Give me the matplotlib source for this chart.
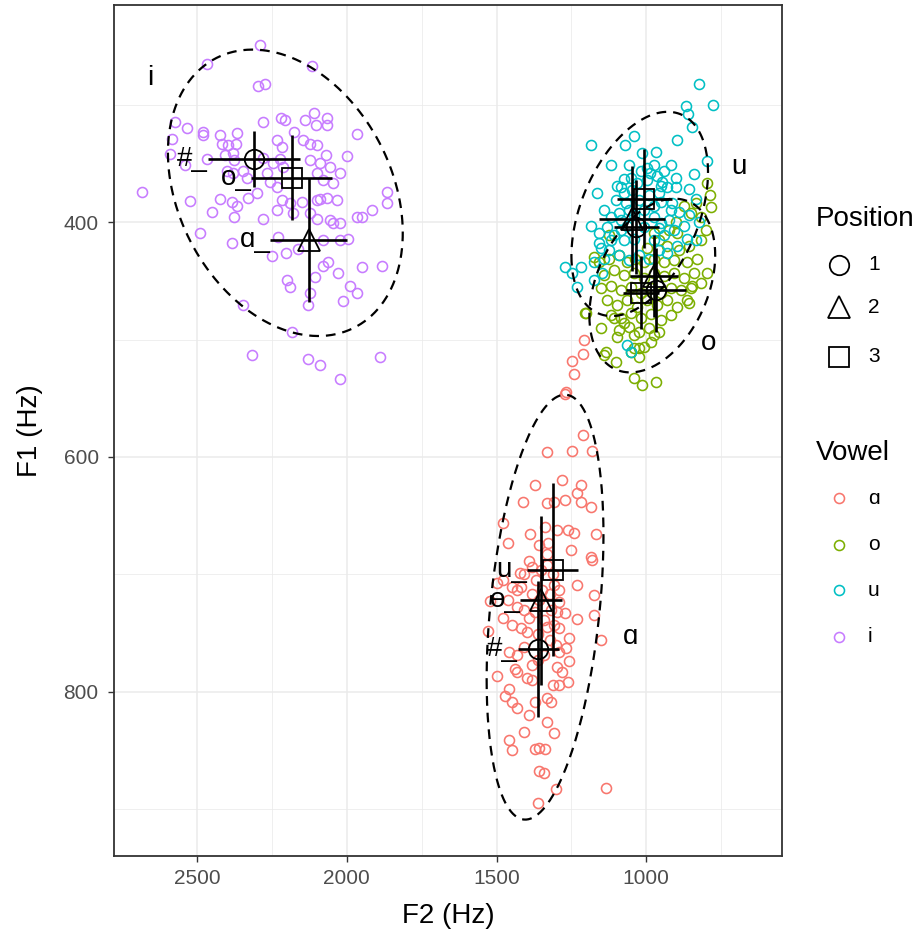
import numpy as np
import matplotlib
matplotlib.use('Agg')
import matplotlib.pyplot as plt
from matplotlib.lines import Line2D

plt.rcParams['font.family'] = ['Liberation Sans', 'DejaVu Sans']
plt.rcParams['lines.scale_dashes'] = False

# Raw tokens (F2, F1) in Hz, per vowel
i_points = [(2290, 249), (2467, 265), (2117, 267), (2297, 284), (2273, 282), (2573, 315), (2533, 320),
            (2480, 323), (2480, 326), (2423, 326), (2367, 324), (2583, 329), (2417, 333), (2397, 334),
            (2370, 333), (2280, 315), (2220, 311), (2207, 313), (2140, 313), (2110, 307), (2103, 317),
            (2067, 311), (2067, 317), (2177, 323), (2233, 330), (2217, 336), (2147, 330), (2123, 333),
            (2100, 334), (1967, 325), (2590, 342), (2467, 346), (2540, 351), (2407, 343), (2380, 341),
            (2377, 347), (2280, 345), (2247, 350), (2223, 346), (2213, 353), (2123, 347), (2090, 350),
            (2070, 343), (2057, 353), (2000, 344), (2400, 356), (2380, 358), (2347, 356), (2333, 362),
            (2267, 358), (2257, 366), (2233, 370), (2100, 358), (2080, 364), (2047, 367), (2023, 358),
            (2683, 374), (2523, 382), (2450, 391), (2423, 380), (2383, 383), (2367, 386), (2377, 396),
            (2330, 379), (2300, 375), (2280, 397), (2233, 390), (2217, 381), (2190, 384), (2180, 392),
            (2150, 383), (2123, 392), (2100, 381), (2090, 380), (2067, 379), (2033, 381), (2100, 397),
            (2057, 398), (2047, 401), (2023, 401), (1967, 396), (1950, 396), (1917, 390), (1867, 374),
            (1867, 384), (2490, 409), (2383, 418), (2230, 413), (2250, 429), (2203, 426), (2163, 423),
            (2080, 415), (2023, 415), (1997, 414), (2080, 437), (2063, 434), (2030, 443), (1950, 438),
            (1883, 437), (2200, 449), (2190, 455), (2107, 447), (2123, 460), (1990, 454), (1967, 460),
            (2013, 467), (2130, 471), (2347, 471), (2183, 494), (2317, 513), (2130, 517), (2090, 522),
            (1890, 515), (2023, 534)]

a_points = [(1270, 546), (1210, 581), (1330, 596), (1247, 595), (1180, 595), (1373, 624), (1280, 620),
            (1217, 624), (1413, 638), (1333, 639), (1307, 638), (1273, 637), (1233, 631), (1217, 638),
            (1183, 643), (1480, 656), (1463, 673), (1387, 666), (1337, 660), (1297, 662), (1263, 662),
            (1240, 665), (1167, 666), (1357, 675), (1327, 673), (1250, 679), (1330, 683), (1183, 685),
            (1180, 688), (1393, 689), (1383, 694), (1423, 699), (1407, 700), (1480, 705), (1500, 707),
            (1447, 711), (1430, 713), (1417, 711), (1233, 709), (1173, 718), (1523, 723), (1463, 722),
            (1433, 728), (1407, 730), (1290, 724), (1270, 733), (1480, 737), (1450, 743), (1390, 737),
            (1233, 738), (1173, 735), (1527, 748), (1417, 746), (1397, 749), (1330, 745), (1290, 746),
            (1257, 754), (1150, 756), (1457, 766), (1433, 769), (1407, 762), (1290, 766), (1267, 763),
            (1383, 777), (1257, 774), (1440, 781), (1430, 783), (1297, 779), (1280, 783), (1497, 787),
            (1397, 788), (1380, 790), (1313, 794), (1290, 794), (1263, 792), (1457, 798), (1473, 804),
            (1447, 809), (1430, 814), (1333, 805), (1317, 809), (1373, 809), (1390, 820), (1333, 826),
            (1307, 835), (1407, 834), (1457, 841), (1447, 850), (1373, 849), (1357, 848), (1337, 849),
            (1133, 882), (1357, 868), (1340, 869), (1300, 883), (1363, 895), (1207, 500), (1210, 512),
            (1247, 518), (1240, 529), (1267, 545), (1367, 705), (1347, 713), (1323, 717), (1307, 709),
            (1357, 722), (1317, 730), (1340, 739), (1307, 743), (1363, 751), (1323, 756), (1350, 696),
            (1313, 700), (1370, 732), (1297, 732), (1330, 692), (1380, 717), (1290, 713), (1340, 769),
            (1363, 773), (1303, 760)]

u_points = [(823, 282), (867, 301), (777, 300), (860, 308), (847, 319), (1040, 327), (1070, 334),
            (1183, 334), (897, 330), (1013, 341), (967, 340), (1117, 351), (1057, 351), (917, 351),
            (797, 348), (997, 354), (987, 358), (1050, 362), (963, 361), (947, 366), (950, 369),
            (900, 362), (840, 359), (1163, 375), (1083, 370), (1073, 375), (930, 370), (900, 370),
            (857, 372), (833, 380), (1067, 384), (1057, 390), (950, 383), (913, 384), (1140, 390),
            (1117, 396), (1090, 392), (1083, 398), (973, 396), (917, 390), (1183, 403), (1130, 404),
            (1083, 407), (1007, 404), (950, 401), (1270, 438), (1247, 443), (1217, 438), (1233, 455),
            (1173, 449), (1147, 443), (1063, 505), (930, 426), (1157, 418), (1150, 422), (1050, 511),
            (1107, 411), (1073, 415), (1040, 414), (973, 415), (940, 411), (907, 407), (873, 403),
            (857, 394), (1157, 409), (1123, 424), (1090, 428), (1057, 432), (1023, 428), (990, 431),
            (957, 424), (897, 420), (863, 414), (1023, 381), (990, 377), (1007, 390), (973, 386),
            (1040, 394), (1100, 381), (1047, 373), (957, 375), (923, 398), (890, 391), (997, 364),
            (1030, 367), (1063, 403), (1117, 415), (1140, 431), (1173, 434), (833, 415), (823, 400),
            (1097, 369), (1017, 356), (973, 351), (940, 356), (1073, 363), (957, 405)]

o_points = [(797, 367), (787, 377), (783, 387), (833, 384), (873, 386), (850, 392), (817, 396),
            (800, 407), (900, 400), (923, 407), (897, 409), (973, 409), (1123, 411), (817, 415),
            (857, 420), (890, 424), (930, 420), (957, 415), (997, 422),
            (1157, 434), (1123, 431), (1090, 428), (1063, 434), (1037, 431), (1007, 434), (973, 431),
            (940, 434), (907, 432), (863, 434), (830, 431),
            (1140, 445), (1107, 441), (1073, 445), (1040, 443), (1007, 448), (973, 443), (940, 446),
            (907, 443), (873, 448), (840, 443),
            (1150, 456), (1117, 454), (1083, 458), (1050, 455), (1017, 460), (983, 456), (950, 460),
            (917, 456), (883, 458), (850, 456),
            (1130, 466), (1097, 471), (1063, 466), (1030, 472), (997, 466), (963, 471), (930, 466),
            (897, 472), (863, 466),
            (1117, 479), (1083, 482), (1050, 477), (1017, 482), (983, 478), (950, 483), (917, 479),
            (1090, 492), (1057, 489), (1023, 494), (990, 490), (957, 494),
            (1173, 430), (797, 443), (847, 454), (817, 452), (857, 469), (1200, 477), (1150, 490),
            (1107, 482), (1073, 486), (1097, 498), (1040, 496), (973, 496), (983, 502), (1040, 507),
            (1023, 507), (1007, 506), (1133, 511), (1100, 519), (1050, 511), (1023, 515), (1040, 533),
            (1013, 539), (967, 536), (1140, 513), (1203, 477)]

vowels = ['ɑ', 'o', 'u', 'i']
vowel_colors = ['#F8766D', '#7CAE00', '#00BFC4', '#C77CFF']
vowel_points = [a_points, o_points, u_points, i_points]

# means and spread per position (1, 2, 3)
positions = ['1', '2', '3']
pos_markers = ['o', '^', 's']
mean_f2 = {'ɑ': [1360, 1350, 1313], 'o': [967, 973, 1017], 'u': [1033, 1047, 1007], 'i': [2310, 2127, 2183]}
mean_f1 = {'ɑ': [764, 722, 696], 'o': [458, 446, 460], 'u': [404, 397, 380], 'i': [346, 415, 362]}
sd_f2 = {'ɑ': [68, 70, 85], 'o': [100, 80, 60], 'u': [75, 110, 92], 'i': [153, 128, 135]}
sd_f1 = {'ɑ': [58, 72, 74], 'o': [36, 35, 31], 'u': [40, 45, 42], 'i': [24, 53, 36]}
context = {'ɑ': ['#_', 'ɵ_', 'u_'], 'i': ['#_', 'ɑ_', 'o_']}

# ellipse: centre, half extents, correlation
ell_center = {'ɑ': (1338, 728), 'o': (980, 454), 'u': (1022, 393), 'i': (2205, 375)}
ell_half = {'ɑ': (195, 181), 'o': (210, 74), 'u': (228, 87), 'i': (392, 122)}
ell_rho = {'ɑ': 0.34, 'o': 0.35, 'u': 0.41, 'i': -0.28}

# vowel label positions
vlabel_pos = {'i': (2657, 277), 'u': (690, 353), 'o': (793, 503), 'ɑ': (1053, 753)}

PT_MS = 7.2
MEAN_MS = 14

fig = plt.figure(figsize=(9.24, 9.39), dpi=100)
ax = fig.add_axes([114 / 924, 1 - 856 / 939, (782 - 114) / 924, (856 - 5) / 939])

for v, col, pts in zip(vowels, vowel_colors, vowel_points):
    p = np.array(pts)
    ax.plot(p[:, 0], p[:, 1], 'o', ms=PT_MS, mfc='none', mec=col, mew=1.15, zorder=3)

t = np.linspace(0, 2 * np.pi, 300)
for v in vowels:
    cx, cy = ell_center[v]
    hx, hy = ell_half[v]
    r = ell_rho[v]
    ex = cx + hx * np.cos(t)
    ey = cy + hy * (r * np.cos(t) + np.sqrt(1 - r ** 2) * np.sin(t))
    ax.plot(ex, ey, color='black', lw=1.6, ls=(0, (7, 5)), zorder=4)

for v in vowels:
    for k in range(3):
        mx, my = mean_f2[v][k], mean_f1[v][k]
        sx, sy = sd_f2[v][k], sd_f1[v][k]
        ax.plot([mx - sx, mx + sx], [my, my], color='black', lw=1.9, zorder=5, solid_capstyle='butt')
        ax.plot([mx, mx], [my - sy, my + sy], color='black', lw=1.9, zorder=5, solid_capstyle='butt')
        ms = MEAN_MS + 2 if pos_markers[k] == '^' else MEAN_MS
        ax.plot(mx, my, pos_markers[k], ms=ms, mfc='none', mec='black', mew=1.3, zorder=6)
        if v in context:
            ax.text(mx + sx, my, context[v][k], ha='right', va='center', fontsize=20, zorder=7)

for v in vowels:
    lx, ly = vlabel_pos[v]
    ax.text(lx, ly, v, ha='center', va='center', fontsize=20, zorder=7)

ax.set_xlim(2777, 547)
ax.set_ylim(940, 215)
ax.set_xticks([2500, 2000, 1500, 1000])
ax.set_xticks([2250, 1750, 1250, 750], minor=True)
ax.set_yticks([400, 600, 800])
ax.set_yticks([300, 500, 700, 900], minor=True)
ax.grid(True, which='major', color='#EBEBEB', lw=1.1, zorder=0)
ax.grid(True, which='minor', color='#EBEBEB', lw=0.55, zorder=0)
ax.set_axisbelow(True)
ax.tick_params(which='major', length=4, width=1.0, color='#333333', labelsize=15, labelcolor='#4D4D4D')
ax.tick_params(axis='y', which='major', pad=7)
ax.tick_params(axis='x', which='major', pad=5)
ax.tick_params(which='minor', length=0)
for s in ax.spines.values():
    s.set_color('#333333')
    s.set_linewidth(1.3)
ax.set_xlabel('F2 (Hz)', fontsize=20, labelpad=11)
ax.set_ylabel('F1 (Hz)', fontsize=20, labelpad=15)


# legends drawn in figure pixel space
def fx(px):
    return px / 924


def fy(py):
    return 1 - py / 939


fig.text(fx(816), fy(219), 'Position', fontsize=20, ha='left', va='center')
pos_key_y = [265, 307, 357]
for k in range(3):
    ms = MEAN_MS + 2 if pos_markers[k] == '^' else MEAN_MS
    fig.add_artist(Line2D([fx(839)], [fy(pos_key_y[k])], marker=pos_markers[k], ms=ms, mfc='none',
                          mec='black', mew=1.3, transform=fig.transFigure))
    fig.text(fx(868), fy(pos_key_y[k]), positions[k], fontsize=15, ha='left', va='center')

fig.text(fx(816), fy(453), 'Vowel', fontsize=20, ha='left', va='center')
vow_key_y = [498, 545, 590, 637]
for k, v in enumerate(vowels):
    fig.add_artist(Line2D([fx(839)], [fy(vow_key_y[k])], marker='o', ms=PT_MS, mfc='none',
                          mec=vowel_colors[k], mew=1.15, transform=fig.transFigure))
    fig.text(fx(868), fy(vow_key_y[k]), v, fontsize=15, ha='left', va='center')

fig.savefig('out.png', dpi=100)
